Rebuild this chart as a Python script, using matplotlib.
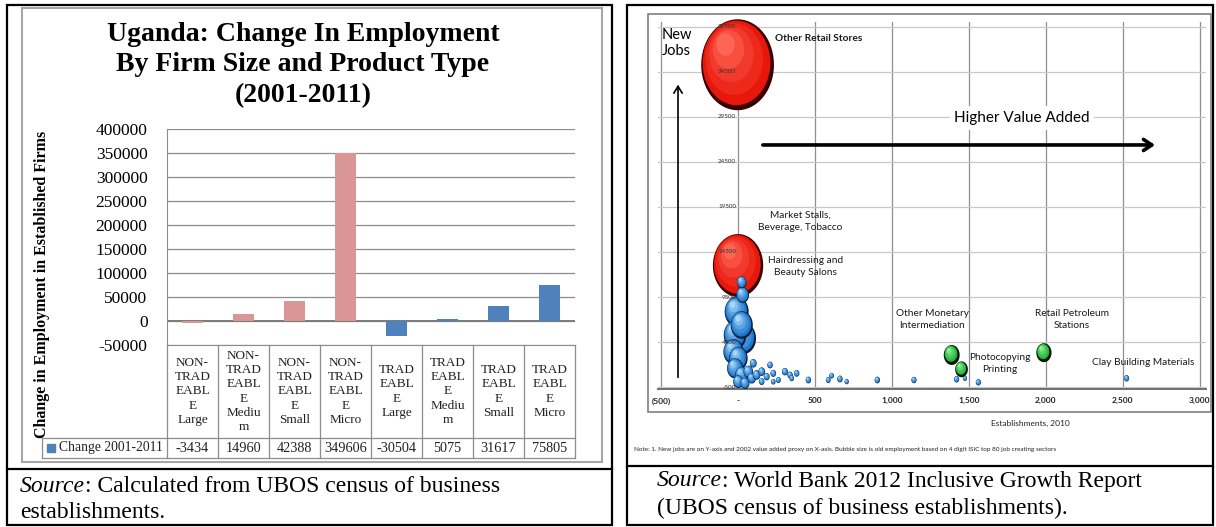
import numpy as np
import matplotlib
matplotlib.use("Agg")
import matplotlib.pyplot as plt
from matplotlib.patches import Rectangle
from matplotlib.path import Path
from matplotlib.markers import MarkerStyle
from matplotlib.colors import to_rgb
from matplotlib.transforms import blended_transform_factory

W, H, DPI = 1216, 527, 100

# ---------------- left chart data ----------------
categories = ["NON-\nTRAD\nEABL\nE\nLarge", "NON-\nTRAD\nEABL\nE\nMediu\nm",
              "NON-\nTRAD\nEABL\nE\nSmall", "NON-\nTRAD\nEABL\nE\nMicro",
              "TRAD\nEABL\nE\nLarge", "TRAD\nEABL\nE\nMediu\nm",
              "TRAD\nEABL\nE\nSmall", "TRAD\nEABL\nE\nMicro"]
changes = [-3434, 14960, 42388, 349606, -30504, 5075, 31617, 75805]
tradeable = [False, False, False, False, True, True, True, True]
series_name = "Change 2001-2011"
left_yticks = list(range(-50000, 400001, 50000))

# ---------------- right chart data ----------------
# establishments 2010 (x), new jobs (y), old employment in thousands (bubble)
red_x = [-3, 0]
red_y = [35300, 13000]
red_emp = [920, 440]

blue_x = [24, 30, -9, 24, 35, -19, -30, 2, -19, 24, 2, 67, 99, 121, 154, 186, 208,
          229, 262, 305, 338, 381, 349, 457, 586, 608, 662, 706, 89, 45, 154, 229,
          905, 1143, 1420, 1474, 1561, 2524]
blue_y = [11133, 9722, 7870, 6389, 4907, 5278, 3426, 2685, 1574, 833, 93, 1204, 2130,
          833, 1204, 648, 1944, 1019, 278, 1204, 833, 1019, 463, 278, 278, 759, 389, 93,
          463, -93, 93, 93, 278, 278, 356, 467, 22, 467]
blue_emp = [16, 28, 100, 85, 110, 90, 70, 60, 45, 30, 18, 16, 8, 10, 8, 6, 5, 5.5, 4,
            6, 5, 5, 3.6, 5, 4, 3.6, 5, 3, 12, 14, 5, 3.6,
            5, 4.5, 4.5, 3, 4.5, 4.5]

green_x = [1388, 1452, 1987]
green_y = [3056, 1463, 3311]
green_emp = [44, 28, 40]

right_xticks = [-500, 0, 500, 1000, 1500, 2000, 2500, 3000]
right_xlabels = ["(500)", "-", "500", "1,000", "1,500", "2,000", "2,500", "3,000"]
right_yticks = list(range(-500, 39501, 5000))

labels = ["Other Retail Stores", "Market Stalls,\nBeverage, Tobacco",
          "Hairdressing and\nBeauty Salons", "Other Monetary\nIntermediation",
          "Retail Petroleum\nStations", "Photocopying\nPrinting",
          "Clay Building Materials"]
label_x = [240, 403, 441, 1260, 2169, 1701, 2630]
label_y = [38270, 17900, 12890, 7000, 7000, 2111, 2278]
label_ha = ["left", "center", "center", "center", "center", "center", "center"]

PINK = "#D99694"
BLUE = "#4F81BD"
SERIF = "Liberation Serif"
SANS = "Lato"

fig = plt.figure(figsize=(W / DPI, H / DPI), dpi=DPI)

# page background: boxes, lines, captions (pixel coordinates)
bg = fig.add_axes([0, 0, 1, 1], zorder=0)
bg.set_xlim(0, W)
bg.set_ylim(H, 0)
bg.axis("off")

bg.add_patch(Rectangle((7, 5), 605, 520, fill=False, ec="black", lw=1.6))
bg.plot([7, 612], [469, 469], color="black", lw=1.6)
bg.add_patch(Rectangle((22, 8), 580, 454, fill=False, ec="#a6a6a6", lw=1.5))

bg.add_patch(Rectangle((627, 5), 586, 520, fill=False, ec="black", lw=1.6))
bg.plot([627, 1213], [466, 466], color="black", lw=1.6)
bg.add_patch(Rectangle((648, 14), 563, 398, fill=False, ec="#7f7f7f", lw=1.2))


def source(x, y, rest):
    t = bg.text(x, y, "Source", fontsize=17, family=SERIF, style="italic",
                va="center", ha="left")
    bg.annotate(rest, xy=(1, 0), xycoords=t, va="bottom", ha="left",
                fontsize=17, family=SERIF)


source(20, 487, ": Calculated from UBOS census of business")
bg.text(20, 512, "establishments.", fontsize=17, family=SERIF, va="center")
source(657, 481, ": World Bank 2012 Inclusive Growth Report")
bg.text(657, 508, "(UBOS census of business establishments).", fontsize=17,
        family=SERIF, va="center")

# ---------------- left: bar chart ----------------
bg.text(303, 65, "Uganda: Change In Employment\nBy Firm Size and Product Type\n(2001-2011)",
        ha="center", va="center", fontsize=20, family=SERIF, weight="bold",
        linespacing=1.3)
bg.text(42, 284, "Change in Employment in Established Firms", rotation=90,
        ha="center", va="center", fontsize=11.5, family=SERIF, weight="bold")

ax = fig.add_axes([167 / W, 1 - 345 / H, 408 / W, 216 / H], zorder=1)
ax.set_facecolor("none")
xs = np.arange(len(changes))
ax.bar(xs, changes, width=0.42, color=[BLUE if t else PINK for t in tradeable],
       zorder=3)
ax.set_xlim(-0.5, len(changes) - 0.5)
ax.set_ylim(left_yticks[0], left_yticks[-1])
ax.set_yticks(left_yticks)
ax.set_yticklabels([str(v) for v in left_yticks], family=SERIF, fontsize=12.5)
ax.tick_params(axis="y", length=0, pad=14)
ax.set_xticks([])
ax.yaxis.grid(True, color="#8c8c8c", lw=0.9, zorder=0)
ax.axhline(0, color="#7a7a7a", lw=1.4, zorder=2)
for s in ["top", "right"]:
    ax.spines[s].set_visible(False)
ax.spines["left"].set_color("#8c8c8c")
ax.spines["bottom"].set_color("#8c8c8c")

# data table under the bars
tr = blended_transform_factory(ax.transData, ax.transAxes)
hb = -(438 - 345) / 216
lb = -(458 - 345) / 216
kx = -0.5 - 125 / 51
lc = "#8c8c8c"
for i in range(len(changes) + 1):
    ax.plot([i - 0.5, i - 0.5], [0, lb], color=lc, lw=0.9, transform=tr, clip_on=False)
ax.plot([kx, kx], [hb, lb], color=lc, lw=0.9, transform=tr, clip_on=False)
for yy in (hb, lb):
    ax.plot([kx, len(changes) - 0.5], [yy, yy], color=lc, lw=0.9, transform=tr,
            clip_on=False)
for i, (lab, v) in enumerate(zip(categories, changes)):
    ax.text(i, hb / 2, lab, ha="center", va="center", fontsize=9.5, family=SERIF,
            linespacing=1.25, transform=tr, color="#222222")
    ax.text(i, (hb + lb) / 2, str(v), ha="center", va="center", fontsize=10.3,
            family=SERIF, transform=tr, color="#222222")
ax.plot([kx + 0.18], [(hb + lb) / 2], marker="s", ms=6, color=BLUE, transform=tr,
        clip_on=False)
ax.text(kx + 0.33, (hb + lb) / 2, series_name, ha="left", va="center", fontsize=9.8,
        family=SERIF, transform=tr, color="#222222")

# ---------------- right: bubble chart ----------------
ax2 = fig.add_axes([658 / W, 1 - 389 / H, (1206 - 658) / W, (389 - 22) / H], zorder=1)
ax2.set_facecolor("white")
ax2.set_xlim(-520, 3040)
ax2.set_ylim(-720, 40050)
ax2.set_xticks(right_xticks)
ax2.set_xticklabels(right_xlabels, family=SANS, fontsize=6, weight="bold",
                    color="#222222")
ax2.set_yticks(right_yticks)
ax2.set_yticklabels([])
ax2.tick_params(axis="x", length=0, pad=6)
ax2.tick_params(axis="y", length=0)
for s in ["left", "top", "right"]:
    ax2.spines[s].set_visible(False)
ax2.spines["bottom"].set_color("#6f6f6f")
ax2.spines["bottom"].set_linewidth(1.4)
for v in right_xticks:
    ax2.axvline(v, color="#8f8f8f", lw=0.9, zorder=0)
for v in right_yticks:
    ax2.axhline(v, color="#c8c8c8", lw=0.9, zorder=0)
    # value labels sit just left of the zero line, as in the source chart
    ax2.text(-12, v, str(v), ha="right", va="center", fontsize=4.5, family=SANS,
             color="#333333", zorder=5)

ux = (ax2.transData.transform((1, 0)) - ax2.transData.transform((0, 0)))[0]
uy = (ax2.transData.transform((0, 1)) - ax2.transData.transform((0, 0)))[1]

tt = np.linspace(0, 2 * np.pi, 61)
OVAL = MarkerStyle(Path(np.column_stack([0.8 * np.cos(tt), np.sin(tt)])))


def mix(c1, c2, f):
    a, b = np.array(to_rgb(c1)), np.array(to_rgb(c2))
    return tuple(a + (b - a) * f)


def bubbles(bx, by, emp, base, light, dark, ring=0.9):
    for x, y, e in zip(bx, by, emp):
        h = 3.0 * np.sqrt(e)
        fr = [1.0, ring, ring - 0.14, ring - 0.32, ring - 0.5, ring - 0.68]
        cols = [dark, base, mix(base, light, .2), mix(base, light, .4),
                mix(base, light, .65), mix(base, light, .9)]
        px, py, ss = [], [], []
        for i, f in enumerate(fr):
            if i == 0:
                dx, dy = 0.0, 0.0
            else:
                sh = (1 - f) * 0.5 * h * 0.7
                dx, dy = -0.5 * sh, 0.85 * sh
            px.append(x + dx / ux)
            py.append(y + dy / uy)
            ss.append((f * h * 72 / DPI) ** 2)
        ax2.scatter(px, py, s=ss, c=cols, marker=OVAL, linewidths=0,
                    clip_on=False, zorder=3)


bubbles(red_x, red_y, red_emp, "#E8170C", "#FF6F5E", "#3a0000", ring=0.93)
order = np.argsort(blue_emp)[::-1]
bubbles([blue_x[i] for i in order], [blue_y[i] for i in order],
        [blue_emp[i] for i in order], "#1E78CC", "#B8E2FF", "#0A1E3C")
bubbles(green_x, green_y, green_emp, "#22B43C", "#B0FFB0", "#051505", ring=0.8)

for lab, x, y, ha in zip(labels, label_x, label_y, label_ha):
    bold = lab.startswith("Other Retail")
    ax2.text(x, y, lab, ha=ha, va="center", fontsize=7.3, family=SANS,
             weight="bold" if bold else "normal", linespacing=1.35,
             color="#1a1a1a", zorder=4)

ax2.text(-494, 39400, "New\nJobs", ha="left", va="top", fontsize=10.5, family=SANS,
         linespacing=1.15, zorder=4)
ax2.annotate("", xy=(-390, 33400), xytext=(-390, 270),
             arrowprops=dict(arrowstyle="->,head_length=0.5,head_width=0.3",
                             lw=1.2, color="black"), zorder=4)
ax2.annotate("", xy=(2727, 26390), xytext=(143, 26390),
             arrowprops=dict(arrowstyle="->,head_length=0.6,head_width=0.4",
                             lw=2.6, color="black"), zorder=4)
ax2.text(1844, 29390, "Higher Value Added", ha="center", va="center", fontsize=11,
         family=SANS, zorder=4,
         bbox=dict(boxstyle="square,pad=0.3", fc="white", ec="none"))

bg.text(1030, 423, "Establishments, 2010", ha="center", va="center", fontsize=6,
        family=SANS, color="#222222")
bg.text(634, 450, "Note: 1. New jobs are on Y-axis and 2002 value added proxy on X-axis. "
        "Bubble size is old employment based on 4 digit ISIC top 80 job creating sectors",
        ha="left", va="center", fontsize=4.6, family=SANS, color="#222222")

fig.savefig("out.png", dpi=DPI)
